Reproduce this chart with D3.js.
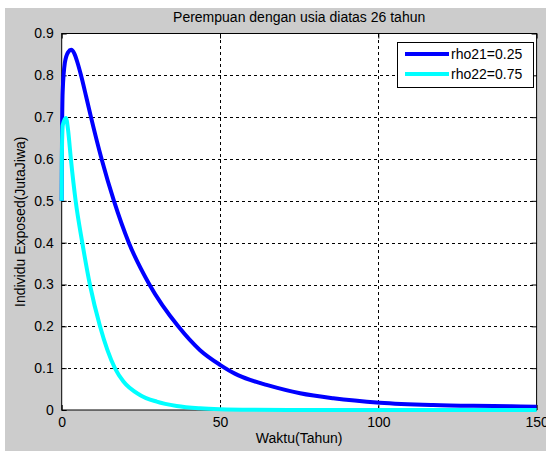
<!DOCTYPE html>
<html>
<head>
<meta charset="utf-8">
<script src="https://cdn.jsdelivr.net/npm/d3@7"></script>
<style>
  body { margin: 0; background: #fff; }
  svg { display: block; font-family: "Liberation Sans", Arial, sans-serif; }
</style>
</head>
<body>
<div id="chart"></div>
<script>
"use strict";

// == DATA ==
var timeBlue = [0, 0.1, 0.3, 1, 2, 3, 4, 5, 6.1, 7.7, 9.25, 12.6, 16.5, 21.2, 27.7, 36.8, 43.7, 50, 54.7, 59.5, 64.7, 75.3, 85.8, 100.5, 117.3, 130, 142, 150];
var valBlue  = [0.5, 0.65, 0.76, 0.83, 0.855, 0.861, 0.852, 0.83, 0.8, 0.75, 0.7, 0.6, 0.5, 0.4, 0.3, 0.2, 0.143, 0.108, 0.087, 0.072, 0.06, 0.04, 0.028, 0.0175, 0.012, 0.01, 0.009, 0.008];

var timeCyan = [0, 0.05, 0.3, 1.35, 2, 2.9, 4.4, 6.5, 8.9, 12.1, 16.8, 19.5, 24.7, 30, 36.3, 43.7, 50, 60, 80, 150];
var valCyan  = [0.5, 0.6, 0.68, 0.698, 0.67, 0.6, 0.5, 0.4, 0.3, 0.2, 0.1, 0.068, 0.036, 0.02, 0.0096, 0.004, 0.0018, 0.0006, 0.0001, 0];

var seriesNames = ["rho21=0.25", "rho22=0.75"];
var seriesColors = ["#0000ff", "#00ffff"];

var xTicks = [0, 50, 100, 150];
var yTicks = [0, 0.1, 0.2, 0.3, 0.4, 0.5, 0.6, 0.7, 0.8, 0.9];

var titleText = "Perempuan dengan usia diatas 26 tahun";
var xLabel = "Waktu(Tahun)";
var yLabel = "Individu Exposed(JutaJiwa)";

// == BOILERPLATE ==
var W = 546, H = 451;
var plot = { left: 61.7, right: 536.6, top: 33.5, bottom: 410 };
var fontSize = "14px";

var svg = d3.select("#chart")
  .append("svg")
  .attr("width", W)
  .attr("height", H);

// figure background (MATLAB gray)
svg.append("rect")
  .attr("x", 5).attr("y", 8)
  .attr("width", W - 5).attr("height", H - 8)
  .attr("fill", "#cccccc");

var x = d3.scaleLinear().domain([0, 150]).range([plot.left, plot.right]);
var y = d3.scaleLinear().domain([0, 0.9]).range([plot.bottom, plot.top]);

// axes area
svg.append("rect")
  .attr("x", plot.left).attr("y", plot.top)
  .attr("width", plot.right - plot.left)
  .attr("height", plot.bottom - plot.top)
  .attr("fill", "#fff");

// == GRID ==
var grid = svg.append("g")
  .attr("stroke", "#000")
  .attr("stroke-width", 1)
  .attr("stroke-dasharray", "3,3")
  .attr("shape-rendering", "crispEdges");

grid.selectAll(".gx")
  .data(xTicks.slice(1, -1))
  .enter()
  .append("line")
  .attr("x1", function (d) { return Math.round(x(d)) + 0.5; })
  .attr("x2", function (d) { return Math.round(x(d)) + 0.5; })
  .attr("y1", plot.top)
  .attr("y2", plot.bottom);

grid.selectAll(".gy")
  .data(yTicks.slice(1, -1))
  .enter()
  .append("line")
  .attr("y1", function (d) { return Math.round(y(d)) + 0.5; })
  .attr("y2", function (d) { return Math.round(y(d)) + 0.5; })
  .attr("x1", plot.left)
  .attr("x2", plot.right);

// == AXES ==
var xAxis = d3.axisBottom(x).tickValues(xTicks).tickSize(-5).tickPadding(7)
  .tickFormat(d3.format("d"));
var yAxis = d3.axisLeft(y).tickValues(yTicks).tickSize(-5).tickPadding(8)
  .tickFormat(function (d) { return d === 0 ? "0" : d3.format(".1f")(d); });

svg.append("g")
  .attr("transform", "translate(0," + plot.bottom + ")")
  .call(xAxis);
svg.append("g")
  .attr("transform", "translate(" + plot.left + ",0)")
  .call(yAxis);

// top / right ticks
svg.append("g")
  .attr("transform", "translate(0," + plot.top + ")")
  .call(d3.axisTop(x).tickValues(xTicks).tickSize(-5).tickFormat(""));
svg.append("g")
  .attr("transform", "translate(" + plot.right + ",0)")
  .call(d3.axisRight(y).tickValues(yTicks).tickSize(-5).tickFormat(""));

svg.selectAll(".domain").remove();
svg.selectAll(".tick line").attr("stroke", "#000");
svg.selectAll(".tick text")
  .attr("fill", "#000")
  .style("font-size", fontSize)
  .style("font-family", "'Liberation Sans', Arial, sans-serif");

// box
svg.append("rect")
  .attr("x", plot.left).attr("y", plot.top)
  .attr("width", plot.right - plot.left)
  .attr("height", plot.bottom - plot.top)
  .attr("fill", "none")
  .attr("stroke", "#000")
  .attr("stroke-width", 1);

// == LINES ==
var line = d3.line()
  .x(function (d) { return x(d[0]); })
  .y(function (d) { return y(d[1]); })
  .curve(d3.curveMonotoneX);

var series = [
  d3.zip(timeBlue, valBlue),
  d3.zip(timeCyan, valCyan)
];

svg.selectAll(".series")
  .data(series)
  .enter()
  .append("path")
  .attr("d", line)
  .attr("fill", "none")
  .attr("stroke", function (d, i) { return seriesColors[i]; })
  .attr("stroke-width", 4)
  .attr("stroke-linejoin", "round");

// == LEGEND ==
var legend = svg.append("g");
legend.append("rect")
  .attr("x", 397.5).attr("y", 42.5)
  .attr("width", 136).attr("height", 45)
  .attr("fill", "#fff")
  .attr("stroke", "#000");

var rows = legend.selectAll(".row")
  .data(seriesNames)
  .enter()
  .append("g")
  .attr("transform", function (d, i) { return "translate(0," + (54 + i * 20) + ")"; });

rows.append("line")
  .attr("x1", 405).attr("x2", 449)
  .attr("stroke", function (d, i) { return seriesColors[i]; })
  .attr("stroke-width", 4);

rows.append("text")
  .attr("x", 451)
  .attr("dy", "0.35em")
  .style("font-size", fontSize)
  .text(function (d) { return d; });

// == TEXT ==
svg.append("text")
  .attr("x", (plot.left + plot.right) / 2)
  .attr("y", 22)
  .attr("text-anchor", "middle")
  .style("font-size", fontSize)
  .text(titleText);

svg.append("text")
  .attr("x", (plot.left + plot.right) / 2)
  .attr("y", 443)
  .attr("text-anchor", "middle")
  .style("font-size", fontSize)
  .text(xLabel);

svg.append("text")
  .attr("transform", "translate(25," + (plot.top + plot.bottom) / 2 + ") rotate(-90)")
  .attr("text-anchor", "middle")
  .style("font-size", fontSize)
  .text(yLabel);
</script>
</body>
</html>
